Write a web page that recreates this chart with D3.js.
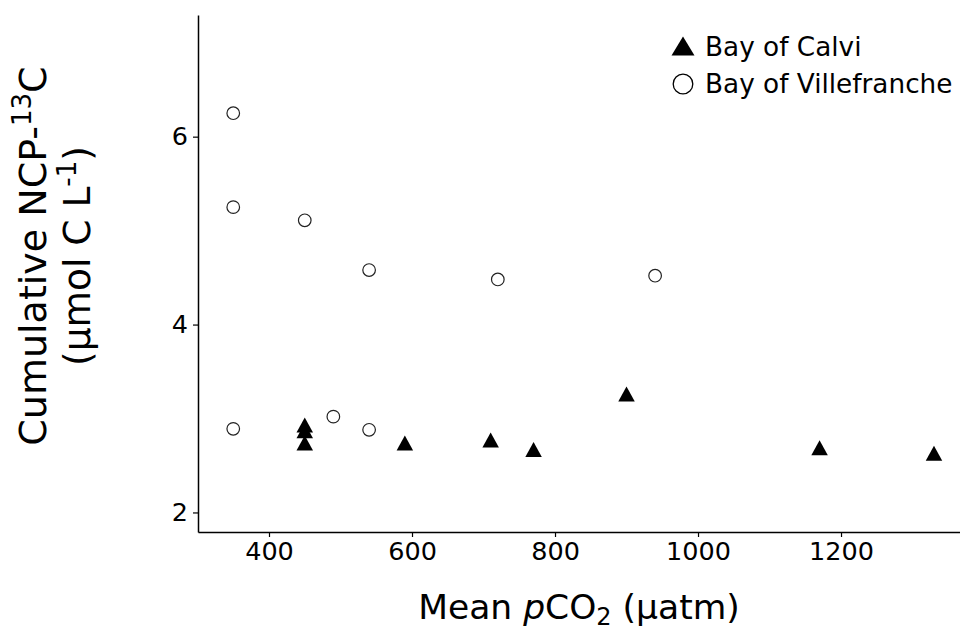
<!DOCTYPE html>
<html>
<head>
<meta charset="utf-8">
<script src="https://cdn.jsdelivr.net/npm/d3@7"></script>
<style>
  html, body { margin: 0; padding: 0; background: #fff; }
  svg { display: block; font-family: "DejaVu Sans", sans-serif; }
</style>
</head>
<body>
<svg id="chart" width="960" height="632"></svg>
<script>
// ---- Data ----
const calviX = [450, 450, 450, 590, 710, 770, 900, 1170, 1330];
const calviY = [2.93, 2.87, 2.74, 2.74, 2.77, 2.67, 3.26, 2.69, 2.63];
const villX = [350, 350, 450, 540, 720, 940, 350, 490, 540];
const villY = [6.25, 5.25, 5.11, 4.58, 4.48, 4.52, 2.89, 3.02, 2.88];
const xTicks = [400, 600, 800, 1000, 1200];
const yTicks = [2, 4, 6];
const seriesNames = ["Bay of Calvi", "Bay of Villefranche"];

// ---- Layout ----
const svg = d3.select("#chart");
const margin = {left: 198, top: 15, right: 0, bottom: 100};
const W = 960, H = 632;
const x = d3.scaleLinear().domain([300.7, 1366.4]).range([margin.left, W - margin.right]);
const y = d3.scaleLinear().domain([1.792, 7.295]).range([H - margin.bottom, margin.top]);

// axes
const xAxis = svg.append("g")
  .attr("transform", `translate(0,${H - margin.bottom})`)
  .call(d3.axisBottom(x).tickValues(xTicks).tickSize(5).tickSizeOuter(0).tickPadding(5).tickFormat(d3.format("d")));
const yAxis = svg.append("g")
  .attr("transform", `translate(${margin.left},0)`)
  .call(d3.axisLeft(y).tickValues(yTicks).tickSize(5).tickSizeOuter(0).tickPadding(5).tickFormat(d3.format("d")));

[xAxis, yAxis].forEach(g => {
  g.select(".domain").attr("stroke", "#000").attr("stroke-width", 1.5);
  g.selectAll(".tick line").attr("stroke", "#000").attr("stroke-width", 1.2);
  g.selectAll(".tick text").attr("fill", "#000").style("font-size", "25.5px").style("font-family", "DejaVu Sans");
});

// marker shapes
function tri(w, h) {
  return `M0,${-h/2}L${w/2},${h/2}L${-w/2},${h/2}Z`;
}

// Villefranche circles
svg.append("g").selectAll("circle")
  .data(villX.map((d, i) => [d, villY[i]]))
  .join("circle")
  .attr("cx", d => x(d[0]))
  .attr("cy", d => y(d[1]))
  .attr("r", 6.3)
  .attr("fill", "#fff")
  .attr("stroke", "#222")
  .attr("stroke-width", 1.2);

// Calvi triangles
svg.append("g").selectAll("path")
  .data(calviX.map((d, i) => [d, calviY[i]]))
  .join("path")
  .attr("d", tri(16.5, 15))
  .attr("transform", d => `translate(${x(d[0])},${y(d[1])})`)
  .attr("fill", "#000");

// Legend
const leg = svg.append("g");
leg.append("path").attr("d", tri(23, 19)).attr("transform", "translate(683,46)").attr("fill", "#000");
leg.append("circle").attr("cx", 683).attr("cy", 84).attr("r", 9.8)
  .attr("fill", "#fff").attr("stroke", "#000").attr("stroke-width", 1.3);
leg.append("text").attr("x", 705).attr("y", 56).style("font-size", "26.3px").text(seriesNames[0]);
leg.append("text").attr("x", 705).attr("y", 93).style("font-size", "26.3px").text(seriesNames[1]);

// X title
const xt = svg.append("text")
  .attr("x", (margin.left + W - margin.right) / 2)
  .attr("y", 619)
  .attr("text-anchor", "middle")
  .style("font-size", "34.5px");
xt.append("tspan").text("Mean ");
xt.append("tspan").style("font-style", "italic").text("p");
xt.append("tspan").text("CO");
xt.append("tspan").attr("dy", 6).style("font-size", "24px").text("2");
xt.append("tspan").attr("dy", -6).text(" (µatm)");

// Y title
const yt = svg.append("g").attr("transform", "translate(0,256) rotate(-90)");
const l1 = yt.append("text").attr("x", 0).attr("y", 46).attr("text-anchor", "middle").style("font-size", "38px");
l1.append("tspan").text("Cumulative NCP-");
l1.append("tspan").attr("dy", -15).style("font-size", "26px").text("13");
l1.append("tspan").attr("dy", 15).text("C");
const l2 = yt.append("text").attr("x", 0).attr("y", 90).attr("text-anchor", "middle").style("font-size", "37.5px");
l2.append("tspan").text("(µmol C L");
l2.append("tspan").attr("dy", -14).style("font-size", "26px").text("-1");
l2.append("tspan").attr("dy", 14).text(")");
</script>
</body>
</html>
